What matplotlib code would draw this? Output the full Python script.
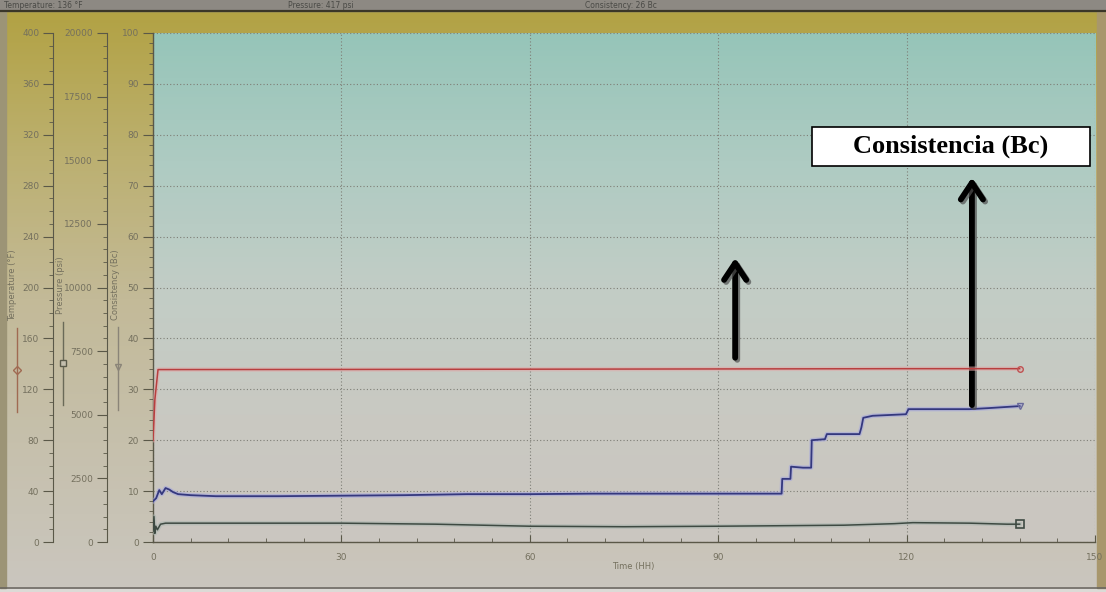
import numpy as np
import matplotlib
matplotlib.use("Agg")
import matplotlib.pyplot as plt
import matplotlib.patheffects as pe
from matplotlib.colors import LinearSegmentedColormap
from matplotlib.patches import Rectangle
from matplotlib.ticker import MultipleLocator

# --- data ---
# temperature (F) vs time (h)
temp_time = [0.0, 0.3, 0.8, 30, 60, 90, 120, 138]
temp_vals = [80, 112, 135.5, 135.6, 135.8, 136.0, 136.2, 136.2]

# pressure (psi) vs time (h)
press_time = [0.0, 0.15, 0.3, 0.45, 0.7, 1.2, 2, 10, 30, 45, 60, 75, 90, 100, 110, 118, 121, 130, 136, 138]
press_vals = [420, 1000, 340, 620, 480, 700, 740, 740, 740, 700, 620, 600, 620, 640, 660, 720, 760, 740, 700, 700]

# consistency (Bc) vs time (h)
cons_time = [0.0, 0.5, 1.0, 1.4, 2.0, 2.6, 3.2, 4.0, 6, 10, 20, 30, 40, 50, 60, 70, 80, 90,
             100.1, 100.2, 101.5, 101.6, 103.5, 104.8, 104.9, 107.0, 107.3, 112.5, 112.8, 113.1,
             114.6, 119.9, 120.3, 130, 133, 138]
cons_vals = [8.0, 8.6, 10.2, 9.4, 10.6, 10.3, 9.8, 9.4, 9.2, 9.0, 9.0, 9.1, 9.2, 9.4, 9.4, 9.5, 9.5, 9.5,
             9.5, 12.4, 12.4, 14.8, 14.6, 14.6, 20.0, 20.2, 21.2, 21.2, 22.5, 24.4,
             24.8, 25.1, 26.1, 26.1, 26.3, 26.7]

header_texts = ["Temperature: 136 \u00b0F", "Pressure: 417 psi", "Consistency: 26 Bc"]

W, H = 1106, 592
fig = plt.figure(figsize=(W / 100, H / 100), dpi=100)

# background (monitor screen photographed)
bg = fig.add_axes([0, 0, 1, 1])
bg.set_xlim(0, W)
bg.set_ylim(H, 0)
bg.axis("off")
bg.add_patch(Rectangle((0, 0), W, H, color="#dcdad6", zorder=0))
screen_cmap = LinearSegmentedColormap.from_list(
    "screen", ["#b2a244", "#bcb070", "#c3ba98", "#c6c0ac", "#cac6be"])
bg.imshow(np.linspace(0, 1, 200)[:, None], extent=(6, 1098, 587, 11), cmap=screen_cmap,
          aspect="auto", zorder=1)
bg.add_patch(Rectangle((0, 0), W, 11, color="#8d8983", zorder=2))
bg.plot([0, W], [11, 11], color="#3a3628", lw=1.6, zorder=3)
bg.plot([0, W], [588, 588], color="#6a6660", lw=1.2, zorder=3)
bg.add_patch(Rectangle((1097, 11), 9, 577, color="#a8976c", zorder=2))
bg.add_patch(Rectangle((0, 11), 6, 577, color="#9c9476", zorder=2))
for x, s in zip([4, 288, 585], header_texts):
    bg.text(x, 5.5, s, fontsize=5.5, color="#4a4a46", va="center", ha="left", zorder=4)

# slider widgets on the left panel
bg.plot([17, 17], [328, 412], color="#a06a52", lw=1.0, zorder=4)
bg.plot([17], [370], marker="D", ms=4, mfc="none", mec="#a06a52", zorder=5)
bg.plot([63, 63], [322, 405], color="#6a6a58", lw=1.0, zorder=4)
bg.plot([63], [363], marker="s", ms=5, mfc="#c4bfae", mec="#5a5a4a", zorder=5)
bg.plot([118, 118], [327, 410], color="#8a8478", lw=1.0, zorder=4)
bg.plot([118], [367], marker="v", ms=5, mfc="none", mec="#8a8478", zorder=5)

# main plot area
left, right, top, bottom = 153, 1095, 33, 542
ax = fig.add_axes([left / W, 1 - bottom / H, (right - left) / W, (bottom - top) / H])
ax.set_facecolor("none")
plot_cmap = LinearSegmentedColormap.from_list(
    "plot", ["#96c5b9", "#aecbc2", "#c2cdc6", "#c9c9c2", "#cbc6c0"])
ax.imshow(np.linspace(0, 1, 200)[:, None], extent=(0, 150, 0, 100), cmap=plot_cmap,
          aspect="auto", zorder=0)
ax.set_xlim(0, 150)
ax.set_ylim(0, 100)
ax.xaxis.set_major_locator(MultipleLocator(30))
ax.xaxis.set_minor_locator(MultipleLocator(6))
ax.yaxis.set_major_locator(MultipleLocator(10))
ax.yaxis.set_minor_locator(MultipleLocator(2))
ax.grid(True, which="major", linestyle=(0, (1, 2)), color="#7e7e76", lw=0.8)
for sp in ["top", "right"]:
    ax.spines[sp].set_visible(False)
for sp in ["left", "bottom"]:
    ax.spines[sp].set_color("#5a5848")
    ax.spines[sp].set_linewidth(1.0)
ax.tick_params(axis="y", which="major", direction="out", length=7, color="#5a5848",
               labelsize=6.5, labelcolor="#74705e", pad=3)
ax.tick_params(axis="y", which="minor", direction="out", length=3, color="#5a5848")
ax.tick_params(axis="x", which="major", direction="in", length=5, color="#5a5848",
               labelsize=6.5, labelcolor="#74705e", pad=8)
ax.tick_params(axis="x", which="minor", direction="in", length=3, color="#5a5848")
ax.set_xlabel("Time (HH)", fontsize=6, color="#74705e", labelpad=0)
ax.xaxis.set_label_coords(0.51, -0.04)
ax.set_ylabel("Consistency (Bc)", fontsize=6, color="#74705e")
ax.yaxis.set_label_coords(-0.035, 0.505)


def side_axis(pos, top_val, major, minor, label, label_x):
    a = ax.twinx()
    a.set_ylim(0, top_val)
    a.spines["right"].set_visible(False)
    a.spines["top"].set_visible(False)
    a.spines["bottom"].set_visible(False)
    a.spines["left"].set_visible(True)
    a.spines["left"].set_position(("axes", pos))
    a.spines["left"].set_color("#5a5848")
    a.yaxis.tick_left()
    a.yaxis.set_major_locator(MultipleLocator(major))
    a.yaxis.set_minor_locator(MultipleLocator(minor))
    a.tick_params(axis="y", which="major", direction="out", length=7, color="#5a5848",
                  labelsize=6.5, labelcolor="#74705e", pad=3)
    a.tick_params(axis="y", which="minor", direction="out", length=3, color="#5a5848")
    a.set_ylabel(label, fontsize=6, color="#74705e")
    a.yaxis.set_label_position("left")
    a.yaxis.set_label_coords(label_x, 0.505)
    return a


ax_t = side_axis(-0.106, 400, 40, 10, "Temperature (\u00b0F)", -0.144)
ax_p = side_axis(-0.049, 20000, 2500, 500, "Pressure (psi)", -0.093)

glow = lambda c: [pe.Stroke(linewidth=3.2, foreground=c, alpha=0.55), pe.Normal()]

ax_t.plot(temp_time, temp_vals, color="#b83e3e", lw=1.1, zorder=5,
          path_effects=glow("#e0a8a8"))
ax_t.plot(temp_time[-1], temp_vals[-1], marker="o", ms=4, mfc="none", mec="#c05050", zorder=6)

ax_p.plot(press_time, press_vals, color="#3e4a42", lw=1.1, zorder=5,
          path_effects=glow("#a8b4ae"))
ax_p.plot(press_time[-1], press_vals[-1], marker="s", ms=6, mfc="none", mec="#3e4a42",
          mew=1.2, zorder=6)

ax.plot(cons_time, cons_vals, color="#34387e", lw=1.3, zorder=5,
        path_effects=glow("#a2a4e0"))
ax.plot(cons_time[-1], cons_vals[-1], marker="v", ms=5, mfc="none", mec="#6a6a9a", zorder=6)

# overlay annotations
shadow = [pe.SimpleLineShadow(offset=(1.5, -1.5), shadow_color="#505050", alpha=0.7), pe.Normal()]
arrow_kw = dict(arrowstyle="->,head_length=0.6,head_width=0.4", lw=4.2, color="black",
                mutation_scale=20, shrinkA=0, shrinkB=0)
a1 = ax.annotate("", xy=(92.7, 55.8), xytext=(92.7, 36.2), arrowprops=arrow_kw, zorder=8)
a2 = ax.annotate("", xy=(130.4, 71.6), xytext=(130.4, 26.9), arrowprops=arrow_kw, zorder=8)
a1.arrow_patch.set_path_effects(shadow)
a2.arrow_patch.set_path_effects(shadow)

ax.add_patch(Rectangle((104.9, 73.8), 44.3, 7.7, fc="white", ec="black", lw=1.2,
                       zorder=9, clip_on=False))
ax.text(127.0, 77.7, "Consistencia (Bc)", fontsize=19, fontweight="bold",
        family="Liberation Serif", ha="center", va="center", zorder=10)

fig.savefig("out.png", dpi=100)
